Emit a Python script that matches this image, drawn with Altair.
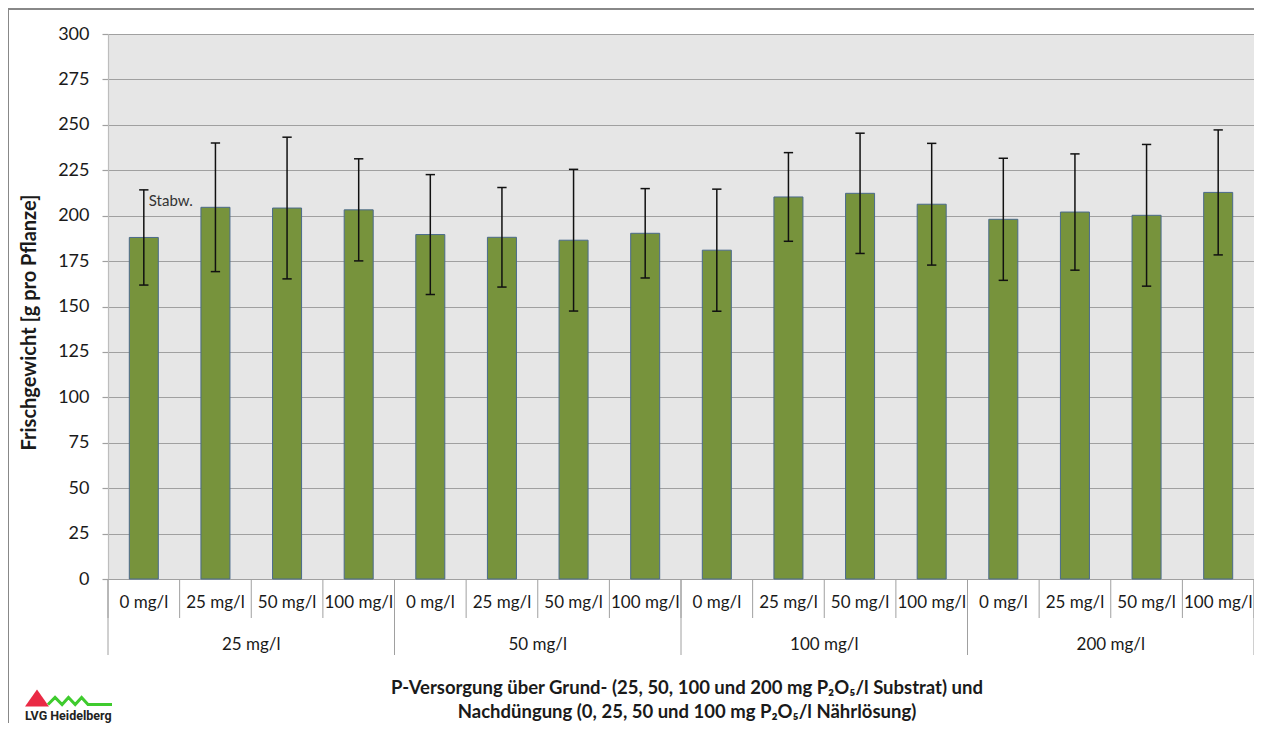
import altair as alt
import pandas as pd

# ---- data ----
grund_levels = ["25 mg/l", "50 mg/l", "100 mg/l", "200 mg/l"]
nach_levels = ["0 mg/l", "25 mg/l", "50 mg/l", "100 mg/l"]
means = [188.0, 204.6, 204.2, 203.2,
         189.6, 188.1, 186.5, 190.3,
         181.0, 210.3, 212.3, 206.3,
         198.0, 202.0, 200.2, 212.8]
sds = [26.2, 35.4, 39.0, 28.1,
       33.0, 27.4, 39.0, 24.6,
       33.6, 24.4, 33.1, 33.5,
       33.6, 32.0, 39.0, 34.4]
y_ticks = list(range(0, 301, 25))
y_title = "Frischgewicht [g pro Pflanze]"
x_title_line1 = "P-Versorgung über Grund- (25, 50, 100 und 200 mg P\u2082O\u2085/l Substrat) und"
x_title_line2 = "Nachdüngung (0, 25, 50 und 100 mg P\u2082O\u2085/l Nährlösung)"
sd_label = "Stabw."
logo_text = "LVG Heidelberg"

# ---- tables ----
rows = []
for gi, g in enumerate(grund_levels):
    for ni, n in enumerate(nach_levels):
        i = gi * 4 + ni
        rows.append({"idx": i, "grund": g, "nach": n, "mean": means[i], "sd": sds[i]})
df = pd.DataFrame(rows)
df["xc"] = df["idx"] + 0.5
df["x0"] = df["idx"] + 0.2975
df["x1"] = df["idx"] + 0.7025
df["cl"] = df["idx"] + 0.435
df["cr"] = df["idx"] + 0.565
df["lo"] = df["mean"] - df["sd"]
df["hi"] = df["mean"] + df["sd"]

sep_df = pd.DataFrame({"b": list(range(17))})
gsep_df = pd.DataFrame({"b": [0, 4, 8, 12, 16]})
grp_df = pd.DataFrame({"g": grund_levels, "gx": [2, 6, 10, 14]})
one = pd.DataFrame({"k": [0]})

W, H = 1146, 545
FONT = "Lato"
TXT = "#1a1a1a"
GRID = "#a0a0a0"

xs = alt.Scale(domain=[0, 16], nice=False, zero=False)
ys = alt.Scale(domain=[0, 300], nice=False)

base = alt.Chart(df)

bars = base.mark_bar(fill="#77933C", stroke="#4A6A8C", strokeWidth=1).encode(
    x=alt.X("x0:Q", scale=xs,
            axis=alt.Axis(labels=False, ticks=False, grid=False, domain=True,
                          domainColor=GRID, domainWidth=1.2, title=None)),
    x2="x1:Q",
    y=alt.Y("mean:Q", scale=ys,
            axis=alt.Axis(values=y_ticks, grid=True, gridColor=GRID, gridWidth=1.2,
                          tickColor=GRID, tickSize=6, tickWidth=1.2,
                          domainColor="#bdbdbd", domainWidth=1.2,
                          labelFont=FONT, labelFontSize=18, labelColor=TXT, labelPadding=13,
                          title=y_title, titleFont=FONT, titleFontSize=20,
                          titleFontWeight="bold", titleColor=TXT,
                          titleAngle=270, titleX=-79, titleY=288,
                          titleAlign="center", titleBaseline="middle")),
    y2=alt.datum(0),
)

err = base.mark_rule(color="#111111", strokeWidth=1.5).encode(
    x=alt.X("xc:Q", scale=xs), y=alt.Y("lo:Q", scale=ys), y2="hi:Q")
cap_hi = base.mark_rule(color="#111111", strokeWidth=1.5).encode(
    x=alt.X("cl:Q", scale=xs), x2="cr:Q", y=alt.Y("hi:Q", scale=ys))
cap_lo = base.mark_rule(color="#111111", strokeWidth=1.5).encode(
    x=alt.X("cl:Q", scale=xs), x2="cr:Q", y=alt.Y("lo:Q", scale=ys))

stabw = alt.Chart(df[df["idx"] == 0]).mark_text(
    text=sd_label, align="left", baseline="middle", dx=5, dy=11,
    font=FONT, fontSize=15, color="#333333").encode(
    x=alt.X("xc:Q", scale=xs), y=alt.Y("hi:Q", scale=ys))

seps = alt.Chart(sep_df).mark_rule(color=GRID, strokeWidth=1).encode(
    x=alt.X("b:Q", scale=xs), y=alt.value(H), y2=alt.value(H + 39))
gseps = alt.Chart(gsep_df).mark_rule(color=GRID, strokeWidth=1).encode(
    x=alt.X("b:Q", scale=xs), y=alt.value(H), y2=alt.value(H + 76))

lab1 = base.mark_text(font=FONT, fontSize=17, color=TXT, baseline="middle").encode(
    x=alt.X("xc:Q", scale=xs), y=alt.value(H + 24), text="nach:N")
lab2 = alt.Chart(grp_df).mark_text(font=FONT, fontSize=17, color=TXT, baseline="middle").encode(
    x=alt.X("gx:Q", scale=xs), y=alt.value(H + 66), text="g:N")

xt1 = alt.Chart(one).mark_text(text=x_title_line1, font=FONT, fontSize=18.5, fontWeight="bold",
                               color=TXT, baseline="middle").encode(
    x=alt.value(579), y=alt.value(H + 109))
xt2 = alt.Chart(one).mark_text(text=x_title_line2, font=FONT, fontSize=18.5, fontWeight="bold",
                               color=TXT, baseline="middle").encode(
    x=alt.value(579), y=alt.value(H + 133))

frame = alt.Chart(one).mark_rect(fillOpacity=0, stroke="#888888", strokeWidth=2).encode(
    x=alt.value(-100), x2=alt.value(W + 60), y=alt.value(-25), y2=alt.value(H + 400))

tri = alt.Chart(one).mark_point(
    shape="M-1,0.7L0,-0.7L1,0.7Z", size=576, filled=True, fill="#EA2A45",
    strokeWidth=0, opacity=1).encode(x=alt.value(-71), y=alt.value(H + 119))
zig = alt.Chart(one).mark_point(
    shape="M-1,0.11L-0.78,-0.11L-0.56,0.11L-0.36,-0.11L-0.15,0.11L0.05,-0.11L0.25,0.11L1,0.11",
    size=4096, filled=False, stroke="#3FCB2E", strokeWidth=3, opacity=1).encode(
    x=alt.value(-28), y=alt.value(H + 122))
logo = alt.Chart(one).mark_text(
    text=logo_text, font="Roboto", fontSize=12.5, fontWeight="bold",
    color="#222222", align="left", baseline="middle").encode(
    x=alt.value(-83), y=alt.value(H + 137))

chart = alt.layer(
    frame, bars, err, cap_hi, cap_lo, stabw, seps, gseps, lab1, lab2, xt1, xt2, tri, zig, logo
).properties(
    width=W, height=H,
    autosize=alt.AutoSizeParams(type="none"),
    padding={"left": 100, "top": 26, "right": 0, "bottom": 144},
    background="white",
).configure_view(fill="#E6E6E6", strokeWidth=0)

chart.save("out.html", embed_options={"renderer": "svg", "actions": False})
